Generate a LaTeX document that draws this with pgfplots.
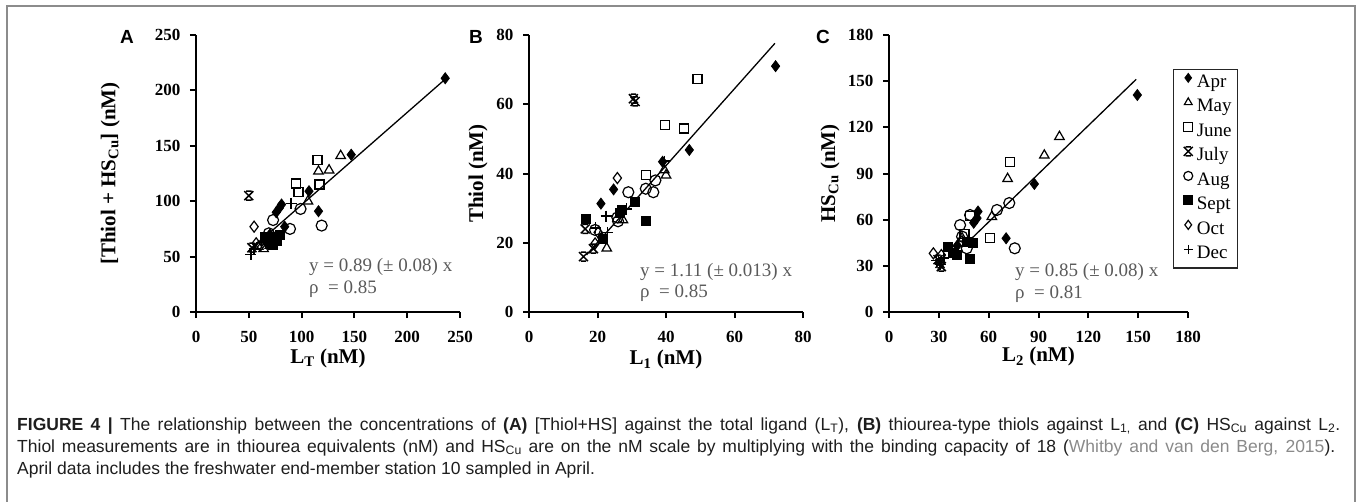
\documentclass[border=0pt]{standalone}
\usepackage{fontspec}
\setmainfont{Liberation Serif}
\newfontfamily\capfont{Liberation Sans}
\newfontfamily\letterfont{Liberation Sans}
\usepackage{pgfplots}
\pgfplotsset{compat=1.18}
\definecolor{framec}{HTML}{8C8C8C}
\definecolor{anno}{HTML}{5A5A5A}
\definecolor{citec}{HTML}{8A8A8A}
\definecolor{captxt}{HTML}{1E1E1E}

\pgfdeclareplotmark{julyx}{%
 \pgfpathmoveto{\pgfqpoint{-\pgfplotmarksize}{-\pgfplotmarksize}}%
 \pgfpathlineto{\pgfqpoint{\pgfplotmarksize}{\pgfplotmarksize}}%
 \pgfpathmoveto{\pgfqpoint{-\pgfplotmarksize}{\pgfplotmarksize}}%
 \pgfpathlineto{\pgfqpoint{\pgfplotmarksize}{-\pgfplotmarksize}}%
 \pgfpathmoveto{\pgfqpoint{-0.6\pgfplotmarksize}{\pgfplotmarksize}}%
 \pgfpathlineto{\pgfqpoint{0.6\pgfplotmarksize}{\pgfplotmarksize}}%
 \pgfpathmoveto{\pgfqpoint{-0.6\pgfplotmarksize}{-\pgfplotmarksize}}%
 \pgfpathlineto{\pgfqpoint{0.6\pgfplotmarksize}{-\pgfplotmarksize}}%
 \pgfusepathqstroke}

\newcommand{\lblfont}{\bfseries\fontsize{21pt}{24pt}\selectfont}

\pgfplotsset{
 panel/.style={
  scale only axis, anchor=south west, axis lines=left,
  axis line style={-, line width=2.4pt},
  tick align=outside, major tick length=6pt,
  every tick/.style={black, line width=2pt},
  tick label style={font=\bfseries\fontsize{17pt}{17pt}\selectfont},
  xticklabel style={yshift=-10pt},
  yticklabel style={xshift=-6pt},
  /pgf/number format/assume math mode=true,
  clip=false, height=277pt,
 },
 apr/.style={only marks, mark=diamond*, mark size=5.5pt, mark options={draw=black, fill=black, line width=0.8pt}},
 may/.style={only marks, mark=triangle, mark size=5.5pt, mark options={draw=black, line width=1.2pt}},
 jun/.style={only marks, mark=square, mark size=4.5pt, mark options={draw=black, line width=1.2pt}},
 jul/.style={only marks, mark=julyx, mark size=4.5pt, mark options={draw=black, line width=1.5pt}},
 aug/.style={only marks, mark=o, mark size=5.5pt, mark options={draw=black, line width=1.2pt}},
 sep/.style={only marks, mark=square*, mark size=4.5pt, mark options={draw=black, fill=black, line width=0.8pt}},
 oct/.style={only marks, mark=diamond, mark size=5.5pt, mark options={draw=black, line width=1.2pt}},
 dec/.style={only marks, mark=+, mark size=5.5pt, mark options={draw=black, line width=1.4pt}},
 fitline/.style={black, line width=1.3pt, no marks, forget plot},
}

\begin{document}
\begin{tikzpicture}
\path[use as bounding box] (0pt,0pt) rectangle (1358pt,-501pt);
\draw[framec, line width=1.5pt] (7pt,-505pt) -- (7pt,-6pt) -- (1355pt,-6pt) -- (1355pt,-505pt);

% ---------------- Panel A ----------------
\begin{axis}[panel, at={(196pt,-312pt)}, width=264pt,
  xmin=0, xmax=250, ymin=0, ymax=250,
  xtick={0,50,...,250}, ytick={0,50,...,250},
  xlabel={L\textsubscript{T} (nM)},
  ylabel={{[}Thiol + HS\textsubscript{Cu}{]} (nM)},
  every axis x label/.style={at={(axis description cs:0.5,-0.166)}, anchor=center, font=\lblfont},
  every axis y label/.style={at={(axis description cs:-0.325,0.5)}, rotate=90, anchor=center, font=\lblfont},
]
\addplot[fitline] coordinates {(50,55) (237,211)};
\addplot[apr] coordinates {(236,211) (147,142) (107,109) (116,91) (81,97) (79,94) (76,90) (84,77) (70,70) (66,66) (72,64) (68,62)};
\addplot[may] coordinates {(137,141) (116,127) (126,128) (106,100) (64,57) (59,59) (70,60)};
\addplot[jun] coordinates {(115,137) (95,116) (97,108) (117,115)};
\addplot[jul] coordinates {(50,105) (53,58)};
\addplot[aug] coordinates {(99,93) (119,78) (89,75) (73,83) (69,71)};
\addplot[sep] coordinates {(65,68) (74,68) (77,64) (69,64) (73,61) (79,70)};
\addplot[oct] coordinates {(55,77) (57,62) (61,60)};
\addplot[dec] coordinates {(52,52) (55,57) (90,98) (62,63)};
\end{axis}

% ---------------- Panel B ----------------
\begin{axis}[panel, at={(529pt,-312pt)}, width=274pt,
  xmin=0, xmax=80, ymin=0, ymax=80,
  xtick={0,20,...,80}, ytick={0,20,...,80},
  xlabel={L\textsubscript{1} (nM)},
  ylabel={Thiol (nM)},
  every axis x label/.style={at={(axis description cs:0.5,-0.173)}, anchor=center, font=\lblfont},
  every axis y label/.style={at={(axis description cs:-0.186,0.5)}, rotate=90, anchor=center, font=\lblfont},
]
\addplot[fitline] coordinates {(16.8,16.5) (71.8,77.6)};
\addplot[apr] coordinates {(72,71) (46.8,46.8) (39,43.4) (24.7,35.4) (21,31.3) (21.2,21.5)};
\addplot[may] coordinates {(40,39.5) (22.7,18.4) (27.4,26.6) (39.5,41)};
\addplot[jun] coordinates {(49.2,67.3) (39.8,53.9) (45.3,53) (34.2,39.5)};
\addplot[jul] coordinates {(30.5,61.6) (31,60.8) (15.9,16) (16.4,24) (18.8,18.3)};
\addplot[aug] coordinates {(29,34.6) (34.1,35.6) (36.3,34.6) (36.9,38) (26,26.2) (19.3,23.7) (25.8,27.3)};
\addplot[sep] coordinates {(16.5,26.8) (34,26.3) (31,31.9) (26.6,28.6) (21.5,21) (27.2,29.5)};
\addplot[oct] coordinates {(25.8,38.7) (19.3,19.8) (20.2,23)};
\addplot[dec] coordinates {(22.5,27.7) (39.5,43.6) (19.5,24.3) (28.5,29.8) (23,23)};
\end{axis}

% ---------------- Panel C ----------------
\begin{axis}[panel, at={(889pt,-312pt)}, width=299pt,
  xmin=0, xmax=180, ymin=0, ymax=180,
  xtick={0,30,...,180}, ytick={0,30,...,180},
  xlabel={L\textsubscript{2} (nM)},
  ylabel={HS\textsubscript{Cu} (nM)},
  every axis x label/.style={at={(axis description cs:0.5,-0.162)}, anchor=center, font=\lblfont},
  every axis y label/.style={at={(axis description cs:-0.197,0.5)}, rotate=90, anchor=center, font=\lblfont},
  legend style={at={(axis description cs:0.95,0.878)}, anchor=north west,
    draw=black!85, line width=1.2pt, font=\fontsize{19pt}{21pt}\selectfont,
    inner xsep=4pt, inner ysep=2pt, row sep=1.5pt,
    nodes={inner sep=2pt, text height=14pt, text depth=5pt}},
  legend cell align=left,
  legend image code/.code={\path (0pt,0pt) (16pt,0pt); \draw[only marks, mark size=4.5pt] plot coordinates {(10pt,5pt)};},
]
\addplot[fitline] coordinates {(48.8,46.8) (148.8,151.2)};
\addplot[apr] coordinates {(149.5,141) (87.5,83.2) (70.5,47.9) (53.6,65.3) (53,61) (51,58) (41,43)};
\addlegendentry{Apr}
\addplot[may] coordinates {(102.6,113.9) (93.5,101.8) (71.4,86.6) (61.9,61.9) (44,48)};
\addlegendentry{May}
\addplot[jun] coordinates {(73,97.7) (60.6,47.9) (48.8,62.2) (45.5,50.5)};
\addlegendentry{June}
\addplot[jul] coordinates {(30.7,31.6) (29.5,34) (31.5,29.5)};
\addlegendentry{July}
\addplot[aug] coordinates {(72.4,70.8) (65,66.3) (75.7,41.4) (48.8,63) (42.8,56.5) (46.8,41.4) (44,49)};
\addlegendentry{Aug}
\addplot[sep] coordinates {(38.7,38.1) (48.8,34.5) (50.8,44.6) (35.7,42.4) (46.8,45.7) (41,37)};
\addlegendentry{Sept}
\addplot[oct] coordinates {(26.7,38.1) (31.5,37) (44,46)};
\addlegendentry{Oct}
\addplot[dec] coordinates {(30.7,31) (28.5,33.5) (33,35)};
\addlegendentry{Dec}
\end{axis}

% panel letters
\node[font=\letterfont\bfseries\fontsize{19pt}{19pt}\selectfont] at (127pt,-37pt) {A};
\node[font=\letterfont\bfseries\fontsize{19pt}{19pt}\selectfont] at (476pt,-37pt) {B};
\node[font=\letterfont\bfseries\fontsize{19pt}{19pt}\selectfont] at (823pt,-37pt) {C};

% fit annotations
\begin{scope}[every node/.style={anchor=west, text=anno, inner sep=0pt, font=\fontsize{19pt}{19pt}\selectfont}]
\node at (309pt,-267pt) {y = 0.89 (± 0.08) x};
\node at (309pt,-289pt) {ρ\ \ = 0.85};
\node at (640pt,-272pt) {y = 1.11 (± 0.013) x};
\node at (640pt,-293pt) {ρ\ \ = 0.85};
\node at (1015pt,-272pt) {y = 0.85 (± 0.08) x};
\node at (1015pt,-294pt) {ρ\ \ = 0.81};
\end{scope}

% caption (justified lines)
\begin{scope}[every node/.style={anchor=base west, text=captxt, inner sep=0pt, font=\capfont\fontsize{17.5pt}{20pt}\selectfont}]
\node at (17pt,-430pt) {\makebox[1323pt][s]{\textbf{FIGURE 4 |} The relationship between the concentrations of \textbf{(A)} [Thiol+HS] against the total ligand (L\textsubscript{T}), \textbf{(B)} thiourea-type thiols against L\textsubscript{1,} and \textbf{(C)} HS\textsubscript{Cu} against L\textsubscript{2}.}};
\node at (17pt,-452pt) {\makebox[1318pt][s]{Thiol measurements are in thiourea equivalents (nM) and HS\textsubscript{Cu} are on the nM scale by multiplying with the binding capacity of 18 (\textcolor{citec}{Whitby and van den Berg, 2015}).}};
\node at (17pt,-474pt) {April data includes the freshwater end-member station 10 sampled in April.};
\end{scope}
\end{tikzpicture}
\end{document}
